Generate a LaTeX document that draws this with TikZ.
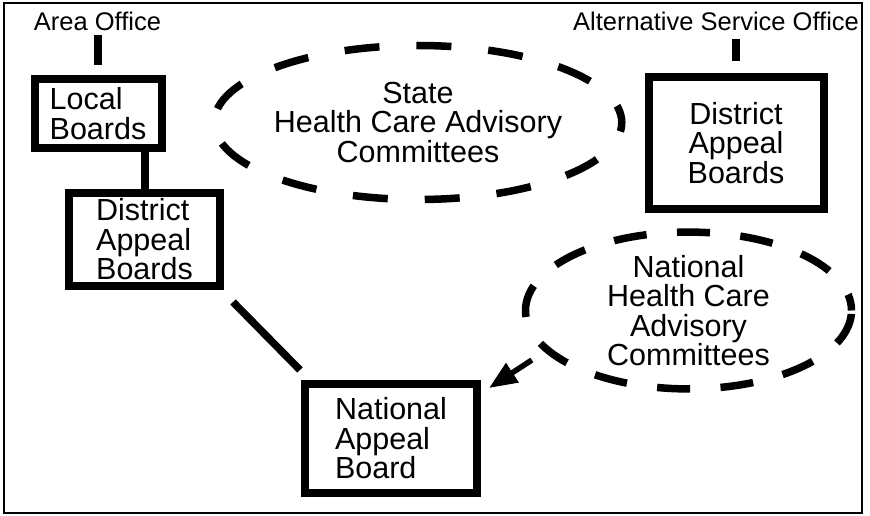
\documentclass[tikz,border=0pt]{standalone}
\usepackage{fontspec}
\setmainfont{Liberation Sans}
\usetikzlibrary{shapes.geometric,arrows.meta}

\begin{document}
\begin{tikzpicture}[
  x=1pt, y=-1pt,
  board/.style={draw, line width=8pt, inner sep=0pt,
    font=\fontsize{30.5}{29.5}\selectfont},
  cmte/.style={draw, ellipse, line width=7.5pt, inner sep=0pt, align=center,
    font=\fontsize{30.5}{29.5}\selectfont},
  office/.style={inner sep=0pt, text depth=0pt, anchor=base,
    font=\fontsize{25.5}{30}\selectfont},
  link/.style={line width=8pt},
]
\useasboundingbox (0,0) rectangle (870,516);
\draw[line width=1.5pt] (4,3) rectangle (862,513);

% offices
\node[office] (ao) at (97.5,31) {Area Office};
\node[office] (aso) at (716,31) {Alternative Service Office};

% boards
\node[board, align=left, minimum width=127pt, minimum height=69pt]
  (lb) at (98,113.5) {Local\\Boards};
\node[board, align=left, minimum width=151pt, minimum height=93pt]
  (dab1) at (144.5,239.5) {District\\Appeal\\Boards};
\node[board, align=center, minimum width=175pt, minimum height=132pt]
  (dab2) at (736,143) {District\\Appeal\\Boards};
\node[board, align=left, minimum width=172pt, minimum height=109pt]
  (nab) at (391,438.5) {National\\Appeal\\Board};

% committees
\node[cmte, minimum width=373pt, minimum height=154pt,
  dash pattern=on 35pt off 37pt, dash phase=17.5pt]
  (shcac) at (418,122.5) {State\\Health Care Advisory\\Committees};
\node[cmte, minimum width=326pt, minimum height=140pt,
  dash pattern=on 33pt off 30.5pt, dash phase=16.5pt]
  (nhcac) at (688.5,310.5) {National\\Health Care\\Advisory\\Committees};

% links
\draw[link, shorten <=4pt, shorten >=10pt] (lb.north |- ao.south) -- (lb.north);
\draw[link, shorten <=8pt, shorten >=12pt] (dab2.north |- aso.south) -- (dab2.north);
\draw[link] (dab1.north |- lb.south) -- (dab1.north);
\draw[link, line width=7.5pt]
  ([shift={(9,12)}]dab1.south east) -- ([shift={(-1,-10)}]nab.north west);
\draw[line width=5.5pt, -{Triangle[length=28pt,width=22pt]}, shorten <=15pt]
  (nhcac.196) -- ([shift={(8,8)}]nab.north east);
\end{tikzpicture}
\end{document}
